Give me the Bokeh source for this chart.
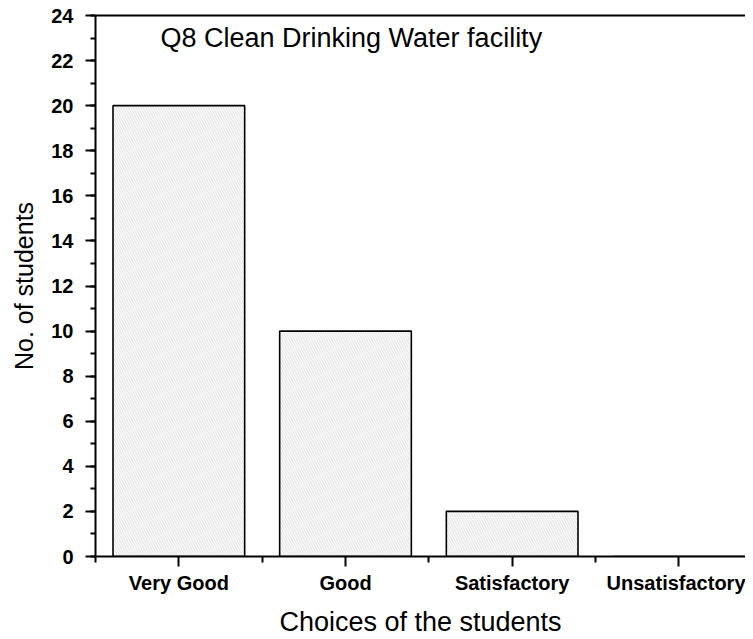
from bokeh.plotting import figure
from bokeh.models import (Range1d, FixedTicker, SingleIntervalTicker, LinearAxis,
                          Label, ColumnDataSource)
from bokeh.embed import file_html
from bokeh.resources import INLINE

# ---- data ----
categories = ["Very Good", "Good", "Satisfactory", "Unsatisfactory"]
counts = [20, 10, 2, 0]
title_text = "Q8 Clean Drinking Water facility"
x_title = "Choices of the students"
y_title = "No. of students"

FONT = "Liberation Sans"

xpos = [i + 0.5 for i in range(len(categories))]
src = ColumnDataSource(dict(x=xpos, top=counts, cat=categories))

p = figure(frame_width=650, frame_height=541, output_backend="svg",
           toolbar_location=None,
           x_range=Range1d(0, 3.9), y_range=Range1d(0, 24),
           min_border_left=95, min_border_top=15, min_border_right=0,
           min_border_bottom=0)
p.grid.visible = False
p.outline_line_color = None
p.background_fill_color = "white"
p.border_fill_color = "white"

p.vbar(x="x", top="top", width=0.79, bottom=0, source=src,
       fill_color="#fcfcfc", line_color="black", line_width=1.6,
       hatch_pattern="\\", hatch_color="#c4c4c4", hatch_scale=5,
       hatch_weight=0.6, hatch_alpha=0.8)

# x axis
xa = p.xaxis[0]
xa.ticker = FixedTicker(ticks=xpos, minor_ticks=list(range(len(categories) + 1)))
xa.major_label_overrides = {x: c for x, c in zip(xpos, categories)}
xa.axis_line_width = 2
xa.major_tick_line_width = 2
xa.minor_tick_line_width = 2
xa.major_tick_in = 0
xa.major_tick_out = 10
xa.minor_tick_in = 0
xa.minor_tick_out = 6
xa.major_label_standoff = 5
xa.major_label_text_font = FONT
xa.major_label_text_font_size = "20px"
xa.major_label_text_font_style = "bold"
xa.major_label_text_color = "black"
xa.axis_label = x_title
xa.axis_label_text_font = FONT
xa.axis_label_text_font_size = "27px"
xa.axis_label_text_font_style = "normal"
xa.axis_label_text_color = "black"
xa.axis_label_standoff = 10

# y axis
ya = p.yaxis[0]
ya.ticker = SingleIntervalTicker(interval=2, num_minor_ticks=2)
ya.axis_line_width = 2
ya.major_tick_line_width = 2
ya.minor_tick_line_width = 2
ya.major_tick_in = 0
ya.major_tick_out = 10
ya.minor_tick_in = 0
ya.minor_tick_out = 5
ya.major_label_standoff = 12
ya.major_label_text_font = FONT
ya.major_label_text_font_size = "20px"
ya.major_label_text_font_style = "bold"
ya.major_label_text_color = "black"
ya.axis_label = y_title
ya.axis_label_text_font = FONT
ya.axis_label_text_font_size = "25px"
ya.axis_label_text_font_style = "normal"
ya.axis_label_text_color = "black"
ya.axis_label_standoff = 10

# top frame line
top = LinearAxis(ticker=FixedTicker(ticks=[]), axis_line_width=2,
                 major_label_text_font_size="0px", major_tick_out=0,
                 minor_tick_out=0)
p.add_layout(top, "above")

p.add_layout(Label(x=0.39, y=23.0, text=title_text, text_font=FONT,
                   text_font_size="27px", text_baseline="middle",
                   text_color="black"))

open("out.html", "w").write(file_html(p, INLINE))
